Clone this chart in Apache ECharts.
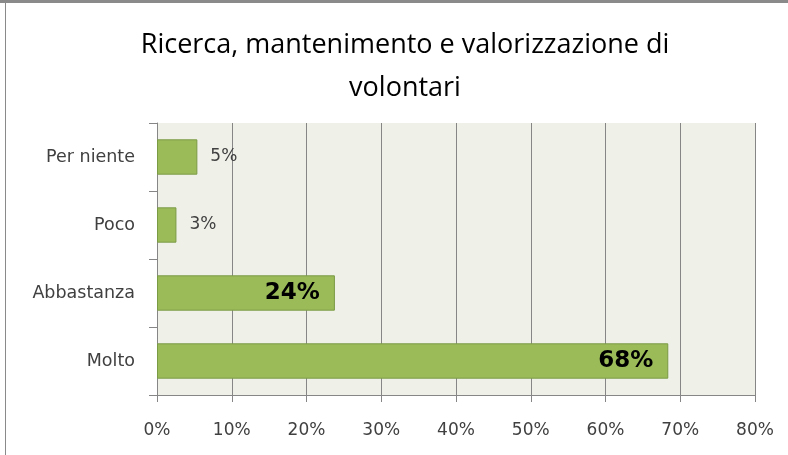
<!DOCTYPE html>
<html>
<head>
<meta charset="utf-8">
<script src="https://cdn.jsdelivr.net/npm/echarts@6/dist/echarts.min.js"></script>
<style>
  html, body { margin: 0; padding: 0; background: #fff; }
  #main { width: 788px; height: 455px; }
</style>
</head>
<body>
<div id="main"></div>
<script>
// data, bottom to top
var categories = ['Molto', 'Abbastanza', 'Poco', 'Per niente'];
var values = [68.4, 23.8, 2.6, 5.4];
var shownLabels = ['68%', '24%', '3%', '5%'];
var bigLabel = [true, true, false, false];

var chart = echarts.init(document.getElementById('main'));

var seriesData = values.map(function (v, i) {
  var lbl = bigLabel[i]
    ? { show: true, position: 'insideRight', distance: 15, fontSize: 23, fontWeight: 'bold', color: '#000', fontFamily: 'DejaVu Sans' }
    : { show: true, position: 'right', distance: 13, fontSize: 17, color: '#404040', fontFamily: 'DejaVu Sans' };
  return { value: v, label: lbl };
});

var option = {
  animation: false,
  title: {
    text: 'Ricerca, mantenimento e valorizzazione di\nvolontari',
    left: 400,
    textAlign: 'center',
    top: 19,
    textStyle: { fontFamily: 'Open Sans', fontSize: 27, fontWeight: 'normal', color: '#000', lineHeight: 43 }
  },
  graphic: [
    { type: 'line', shape: { x1: 0, y1: 1.5, x2: 788, y2: 1.5 }, style: { stroke: '#8a8a8a', lineWidth: 3 } },
    { type: 'line', shape: { x1: 5.5, y1: 1, x2: 5.5, y2: 455 }, style: { stroke: '#8a8a8a', lineWidth: 1 } }
  ],
  grid: { left: 157, right: 33, top: 123, bottom: 60, containLabel: false, show: true, backgroundColor: '#eff1e9', borderWidth: 0 },
  xAxis: {
    type: 'value', min: 0, max: 80, interval: 10,
    axisLine: { show: true, lineStyle: { color: '#868686' } },
    axisTick: { show: true, length: 7, lineStyle: { color: '#868686' } },
    splitLine: { show: true, lineStyle: { color: '#868686' } },
    axisLabel: { formatter: '{value}%', margin: 27, fontSize: 17, color: '#404040', fontFamily: 'DejaVu Sans' }
  },
  yAxis: {
    type: 'category', data: categories,
    axisLine: { show: true, lineStyle: { color: '#868686' } },
    axisTick: { show: true, length: 8, alignWithLabel: false, lineStyle: { color: '#868686' } },
    axisLabel: { margin: 22, fontSize: 17.5, color: '#404040', fontFamily: 'DejaVu Sans' }
  },
  series: [{
    type: 'bar',
    data: seriesData,
    barCategoryGap: '48%',
    itemStyle: { color: '#9bbb59', borderColor: '#7a9a44', borderWidth: 1 },
    label: {
      formatter: function (p) { return shownLabels[p.dataIndex]; }
    }
  }]
};
chart.setOption(option);
</script>
</body>
</html>
